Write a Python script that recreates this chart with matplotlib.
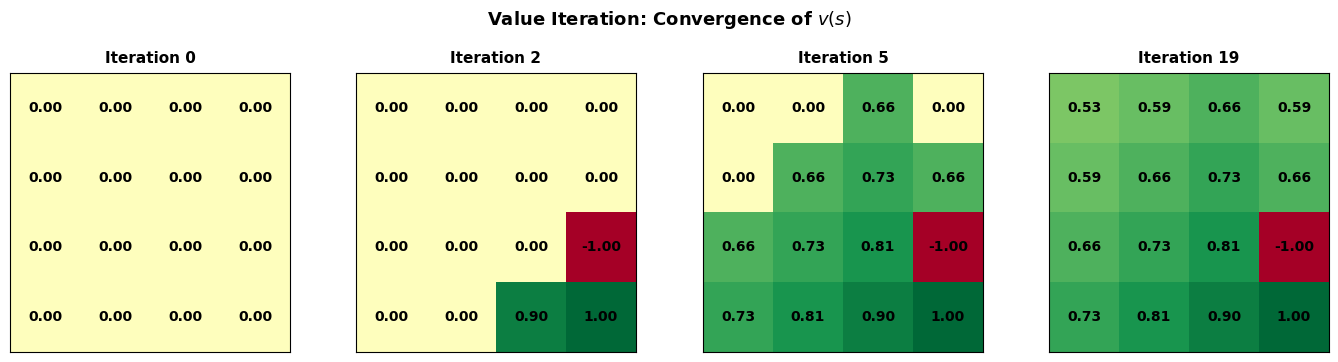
import numpy as np
import matplotlib
matplotlib.use("Agg")
import matplotlib.pyplot as plt

iterations = [0, 2, 5, 19]

v_iter0 = [[0.00, 0.00, 0.00, 0.00],
           [0.00, 0.00, 0.00, 0.00],
           [0.00, 0.00, 0.00, 0.00],
           [0.00, 0.00, 0.00, 0.00]]

v_iter2 = [[0.00, 0.00, 0.00, 0.00],
           [0.00, 0.00, 0.00, 0.00],
           [0.00, 0.00, 0.00, -1.00],
           [0.00, 0.00, 0.90, 1.00]]

v_iter5 = [[0.00, 0.00, 0.66, 0.00],
           [0.00, 0.66, 0.73, 0.66],
           [0.66, 0.73, 0.81, -1.00],
           [0.73, 0.81, 0.90, 1.00]]

v_iter19 = [[0.53, 0.59, 0.66, 0.59],
            [0.59, 0.66, 0.73, 0.66],
            [0.66, 0.73, 0.81, -1.00],
            [0.73, 0.81, 0.90, 1.00]]

grids = [v_iter0, v_iter2, v_iter5, v_iter19]

W, H = 1338, 362
fig = plt.figure(figsize=(W / 100, H / 100), dpi=100)

lefts = [10, 356, 703, 1049]  # pixel positions of each panel
for left, it, grid in zip(lefts, iterations, grids):
    ax = fig.add_axes([left / W, 10 / H, 280 / W, 279 / H])
    v = np.array(grid)
    ax.imshow(v, cmap="RdYlGn", vmin=-1, vmax=1, aspect="auto")
    for i in range(v.shape[0]):
        for j in range(v.shape[1]):
            ax.text(j, i, f"{v[i, j]:.2f}", ha="center", va="center",
                    fontsize=10, fontweight="bold", color="black")
    ax.set_xticks([])
    ax.set_yticks([])
    ax.set_title(f"Iteration {it}", fontsize=11, fontweight="bold", pad=7)

fig.suptitle("Value Iteration: Convergence of $v(s)$", fontsize=13,
             fontweight="bold", y=0.975)

fig.savefig("out.png", dpi=100)
